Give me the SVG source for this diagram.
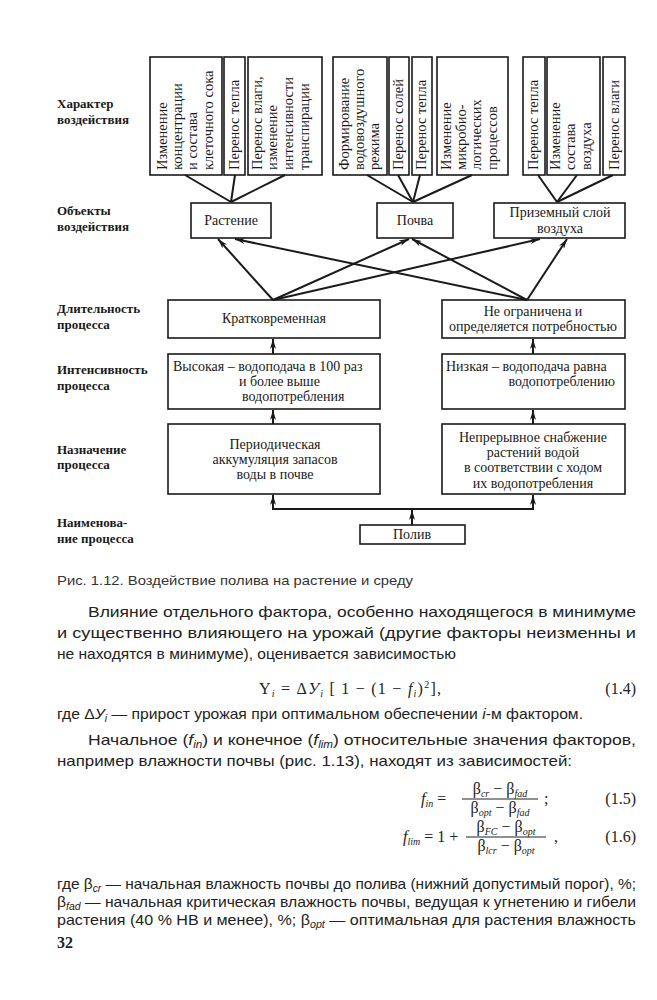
<svg xmlns="http://www.w3.org/2000/svg" width="657" height="1000" viewBox="0 0 657 1000">
<style>
.bx{fill:none;stroke:#1a1a1a;stroke-width:1.6}
.ln{stroke:#1a1a1a;stroke-width:2;fill:none}
.t{font-family:"Liberation Serif","DejaVu Serif",serif;font-size:14px;fill:#1a1a1a}
.v{font-size:14.5px}
.c{text-anchor:middle}
.lb{font-family:"Liberation Serif","DejaVu Serif",serif;font-size:13px;font-weight:bold;fill:#1a1a1a}
.b{font-family:"Liberation Sans","DejaVu Sans",sans-serif;font-size:15px;fill:#222}
.cap{font-family:"Liberation Sans","DejaVu Sans",sans-serif;font-size:13.5px;fill:#333}
.f{font-family:"Liberation Serif","DejaVu Serif",serif;font-size:16px;fill:#222}
.s{font-size:10px;font-style:italic}
.i{font-style:italic}
</style>
<defs>
<marker id="ah" viewBox="0 0 10 6" refX="10" refY="3" markerWidth="10" markerHeight="6" orient="auto" markerUnits="userSpaceOnUse"><path d="M0,0 L10,3 L0,6 L3,3 z" fill="#1a1a1a"/></marker>
</defs>
<rect width="657" height="1000" fill="#fff"/>

<g id="labels">
<text class="lb" x="57" y="108">Характер</text>
<text class="lb" x="57" y="124">воздействия</text>
<text class="lb" x="57" y="215">Объекты</text>
<text class="lb" x="57" y="231">воздействия</text>
<text class="lb" x="57" y="313">Длительность</text>
<text class="lb" x="57" y="329">процесса</text>
<text class="lb" x="57" y="374">Интенсивность</text>
<text class="lb" x="57" y="390">процесса</text>
<text class="lb" x="57" y="454">Назначение</text>
<text class="lb" x="57" y="469">процесса</text>
<text class="lb" x="57" y="527">Наименова-</text>
<text class="lb" x="57" y="543">ние процесса</text>
</g>

<g id="n-izm-konc">
<rect class="bx" x="150" y="57" width="72" height="118"/>
<text class="t v" transform="translate(167,170) rotate(-90)">Изменение</text>
<text class="t v" transform="translate(182,170) rotate(-90)">концентрации</text>
<text class="t v" transform="translate(197,170) rotate(-90)">и состава</text>
<text class="t v" transform="translate(213,170) rotate(-90)">клеточного сока</text>
</g>
<g id="n-teplo1">
<rect class="bx" x="224" y="57" width="21" height="118"/>
<text class="t v" transform="translate(239,170) rotate(-90)">Перенос тепла</text>
</g>
<g id="n-vlaga1">
<rect class="bx" x="248" y="57" width="74" height="118"/>
<text class="t v" transform="translate(262,170) rotate(-90)">Перенос влаги,</text>
<text class="t v" transform="translate(277,170) rotate(-90)">изменение</text>
<text class="t v" transform="translate(293,170) rotate(-90)">интенсивности</text>
<text class="t v" transform="translate(309,170) rotate(-90)">транспирации</text>
</g>
<g id="n-form">
<rect class="bx" x="333" y="57" width="54" height="118"/>
<text class="t v" transform="translate(349,170) rotate(-90)">Формирование</text>
<text class="t v" transform="translate(364,170) rotate(-90)">водовоздушного</text>
<text class="t v" transform="translate(379,170) rotate(-90)">режима</text>
</g>
<g id="n-soli">
<rect class="bx" x="389" y="57" width="20" height="118"/>
<text class="t v" transform="translate(403,170) rotate(-90)">Перенос солей</text>
</g>
<g id="n-teplo2">
<rect class="bx" x="412" y="57" width="20" height="118"/>
<text class="t v" transform="translate(426,170) rotate(-90)">Перенос тепла</text>
</g>
<g id="n-mikro">
<rect class="bx" x="437" y="57" width="71" height="118"/>
<text class="t v" transform="translate(451,170) rotate(-90)">Изменение</text>
<text class="t v" transform="translate(466,170) rotate(-90)">микробио-</text>
<text class="t v" transform="translate(481,170) rotate(-90)">логических</text>
<text class="t v" transform="translate(497,170) rotate(-90)">процессов</text>
</g>
<g id="n-teplo3">
<rect class="bx" x="523" y="57" width="22" height="118"/>
<text class="t v" transform="translate(538,170) rotate(-90)">Перенос тепла</text>
</g>
<g id="n-sostav">
<rect class="bx" x="547" y="57" width="53" height="118"/>
<text class="t v" transform="translate(560,170) rotate(-90)">Изменение</text>
<text class="t v" transform="translate(575,170) rotate(-90)">состава</text>
<text class="t v" transform="translate(591,170) rotate(-90)">воздуха</text>
</g>
<g id="n-vlaga3">
<rect class="bx" x="603" y="57" width="22" height="118"/>
<text class="t v" transform="translate(619,170) rotate(-90)">Перенос влаги</text>
</g>

<g id="n-rastenie">
<rect class="bx" x="191" y="203" width="80" height="35"/>
<text class="t c" x="231" y="225">Растение</text>
</g>
<g id="n-pochva">
<rect class="bx" x="377" y="203" width="76" height="35"/>
<text class="t c" x="415" y="225">Почва</text>
</g>
<g id="n-vozduh">
<rect class="bx" x="494" y="203" width="131" height="35"/>
<text class="t c" x="560" y="217">Приземный слой</text>
<text class="t c" x="560" y="233">воздуха</text>
</g>

<g id="n-kratko">
<rect class="bx" x="168" y="300" width="212" height="38"/>
<text class="t c" x="274" y="323">Кратковременная</text>
</g>
<g id="n-neogr">
<rect class="bx" x="442" y="300" width="183" height="38"/>
<text class="t c" x="533" y="316">Не ограничена и</text>
<text class="t c" x="533" y="331">определяется потребностью</text>
</g>

<g id="n-vysokaya">
<rect class="bx" x="168" y="354" width="212" height="55"/>
<text class="t" x="173" y="371">Высокая – водоподача в 100 раз</text>
<text class="t" x="239" y="386">и более выше</text>
<text class="t" x="242" y="401">водопотребления</text>
</g>
<g id="n-nizkaya">
<rect class="bx" x="442" y="354" width="183" height="55"/>
<text class="t" x="446" y="371">Низкая – водоподача равна</text>
<text class="t" x="615" y="386" text-anchor="end">водопотреблению</text>
</g>

<g id="n-period">
<rect class="bx" x="168" y="424" width="212" height="70"/>
<text class="t c" x="275" y="449">Периодическая</text>
<text class="t c" x="275" y="464">аккумуляция запасов</text>
<text class="t c" x="275" y="479">воды в почве</text>
</g>
<g id="n-nepr">
<rect class="bx" x="442" y="424" width="183" height="70"/>
<text class="t c" x="533" y="442">Непрерывное снабжение</text>
<text class="t c" x="533" y="457">растений водой</text>
<text class="t c" x="533" y="472">в соответствии с ходом</text>
<text class="t c" x="533" y="488">их водопотребления</text>
</g>

<g id="n-poliv">
<rect class="bx" x="360" y="525" width="105" height="19"/>
<text class="t c" x="412" y="539">Полив</text>
</g>

<g id="connectors">
<line class="ln" x1="185" y1="175" x2="231" y2="202"/>
<line class="ln" x1="235" y1="175" x2="231" y2="202"/>
<line class="ln" x1="285" y1="175" x2="231" y2="202"/>
<line class="ln" x1="367" y1="175" x2="413" y2="202"/>
<line class="ln" x1="398" y1="175" x2="413" y2="202"/>
<line class="ln" x1="420" y1="175" x2="413" y2="202"/>
<line class="ln" x1="472" y1="175" x2="413" y2="202"/>
<line class="ln" x1="538" y1="175" x2="557" y2="202"/>
<line class="ln" x1="577" y1="175" x2="557" y2="202"/>
<line class="ln" x1="613" y1="175" x2="557" y2="202"/>

<line class="ln" x1="273" y1="300" x2="218" y2="239" marker-end="url(#ah)"/>
<line class="ln" x1="273" y1="300" x2="409" y2="239" marker-end="url(#ah)"/>
<line class="ln" x1="273" y1="300" x2="540" y2="239" marker-end="url(#ah)"/>
<line class="ln" x1="527" y1="300" x2="235" y2="239" marker-end="url(#ah)"/>
<line class="ln" x1="527" y1="300" x2="412" y2="239" marker-end="url(#ah)"/>
<line class="ln" x1="527" y1="300" x2="567" y2="239" marker-end="url(#ah)"/>

<line class="ln" x1="273" y1="354" x2="273" y2="339" marker-end="url(#ah)"/>
<line class="ln" x1="533" y1="354" x2="533" y2="339" marker-end="url(#ah)"/>
<line class="ln" x1="273" y1="424" x2="273" y2="410" marker-end="url(#ah)"/>
<line class="ln" x1="533" y1="424" x2="533" y2="410" marker-end="url(#ah)"/>
<polyline class="ln" points="273,495 273,509 533,509 533,495"/>
<line class="ln" x1="273" y1="509" x2="273" y2="495" marker-end="url(#ah)"/>
<line class="ln" x1="533" y1="509" x2="533" y2="495" marker-end="url(#ah)"/>
<line class="ln" x1="412" y1="525" x2="412" y2="510" marker-end="url(#ah)"/>
</g>

<g id="text">
<text class="cap" x="57" y="585" textLength="356" lengthAdjust="spacingAndGlyphs">Рис. 1.12. Воздействие полива на растение и среду</text>
<text class="b" x="88" y="617" textLength="548" lengthAdjust="spacingAndGlyphs">Влияние отдельного фактора, особенно находящегося в минимуме</text>
<text class="b" x="57" y="638" textLength="579" lengthAdjust="spacingAndGlyphs">и существенно влияющего на урожай (другие факторы неизменны и</text>
<text class="b" x="57" y="659" textLength="399" lengthAdjust="spacingAndGlyphs">не находятся в минимуме), оценивается зависимостью</text>

<text class="f" x="259" y="694" textLength="182" lengthAdjust="spacing">Y<tspan class="s" dy="3">i</tspan><tspan dy="-3"> = Δ</tspan><tspan class="i">У</tspan><tspan class="s" dy="3">i</tspan><tspan dy="-3"> [ 1 − (1 − </tspan><tspan class="i">f</tspan><tspan class="s" dy="3">i</tspan><tspan dy="-3">)</tspan><tspan font-size="10" dy="-6">2</tspan><tspan dy="6">],</tspan></text>
<text class="f" x="636" y="694" text-anchor="end">(1.4)</text>

<text class="b" x="57" y="719" textLength="526" lengthAdjust="spacingAndGlyphs">где Δ<tspan class="i">У</tspan><tspan class="s" dy="3">i</tspan><tspan dy="-3"> — прирост урожая при оптимальном обеспечении </tspan><tspan class="i">i</tspan>-м фактором.</text>

<text class="b" x="88" y="745" textLength="548" lengthAdjust="spacingAndGlyphs">Начальное (<tspan class="i">f</tspan><tspan class="s" dy="3">in</tspan><tspan dy="-3">) и конечное (</tspan><tspan class="i">f</tspan><tspan class="s" dy="3">lim</tspan><tspan dy="-3">) относительные значения факторов,</tspan></text>
<text class="b" x="57" y="766" textLength="515" lengthAdjust="spacingAndGlyphs">например влажности почвы (рис. 1.13), находят из зависимостей:</text>

<text class="f" x="421" y="804"><tspan class="i">f</tspan><tspan class="s" dy="3">in</tspan><tspan dy="-3"> =</tspan></text>
<text class="f" x="500" y="794" text-anchor="middle">β<tspan class="s" dy="3">cr</tspan><tspan dy="-3"> − β</tspan><tspan class="s" dy="3">fad</tspan></text>
<line x1="462" y1="799" x2="538" y2="799" stroke="#222" stroke-width="1"/>
<text class="f" x="500" y="813" text-anchor="middle">β<tspan class="s" dy="3">opt</tspan><tspan dy="-3"> − β</tspan><tspan class="s" dy="3">fad</tspan></text>
<text class="f" x="544" y="804">;</text>
<text class="f" x="636" y="804" text-anchor="end">(1.5)</text>

<text class="f" x="403" y="842"><tspan class="i">f</tspan><tspan class="s" dy="3">lim</tspan><tspan dy="-3"> = 1 +</tspan></text>
<text class="f" x="506" y="832" text-anchor="middle">β<tspan class="s" dy="3">FC</tspan><tspan dy="-3"> − β</tspan><tspan class="s" dy="3">opt</tspan></text>
<line x1="466" y1="837" x2="546" y2="837" stroke="#222" stroke-width="1"/>
<text class="f" x="506" y="851" text-anchor="middle">β<tspan class="s" dy="3">lcr</tspan><tspan dy="-3"> − β</tspan><tspan class="s" dy="3">opt</tspan></text>
<text class="f" x="554" y="842">,</text>
<text class="f" x="636" y="842" text-anchor="end">(1.6)</text>

<text class="b" x="57" y="889" textLength="579" lengthAdjust="spacingAndGlyphs">где β<tspan class="s" dy="3">cr</tspan><tspan dy="-3"> — начальная влажность почвы до полива (нижний допустимый порог), %;</tspan></text>
<text class="b" x="57" y="907" textLength="579" lengthAdjust="spacingAndGlyphs">β<tspan class="s" dy="3">fad</tspan><tspan dy="-3"> — начальная критическая влажность почвы, ведущая к угнетению и гибели</tspan></text>
<text class="b" x="57" y="925" textLength="579" lengthAdjust="spacingAndGlyphs">растения (40 % НВ и менее), %; β<tspan class="s" dy="3">opt</tspan><tspan dy="-3"> — оптимальная для растения влажность</tspan></text>
<text x="57" y="948" font-family="Liberation Serif, serif" font-size="16" font-weight="bold" fill="#222">32</text>
</g>
</svg>
